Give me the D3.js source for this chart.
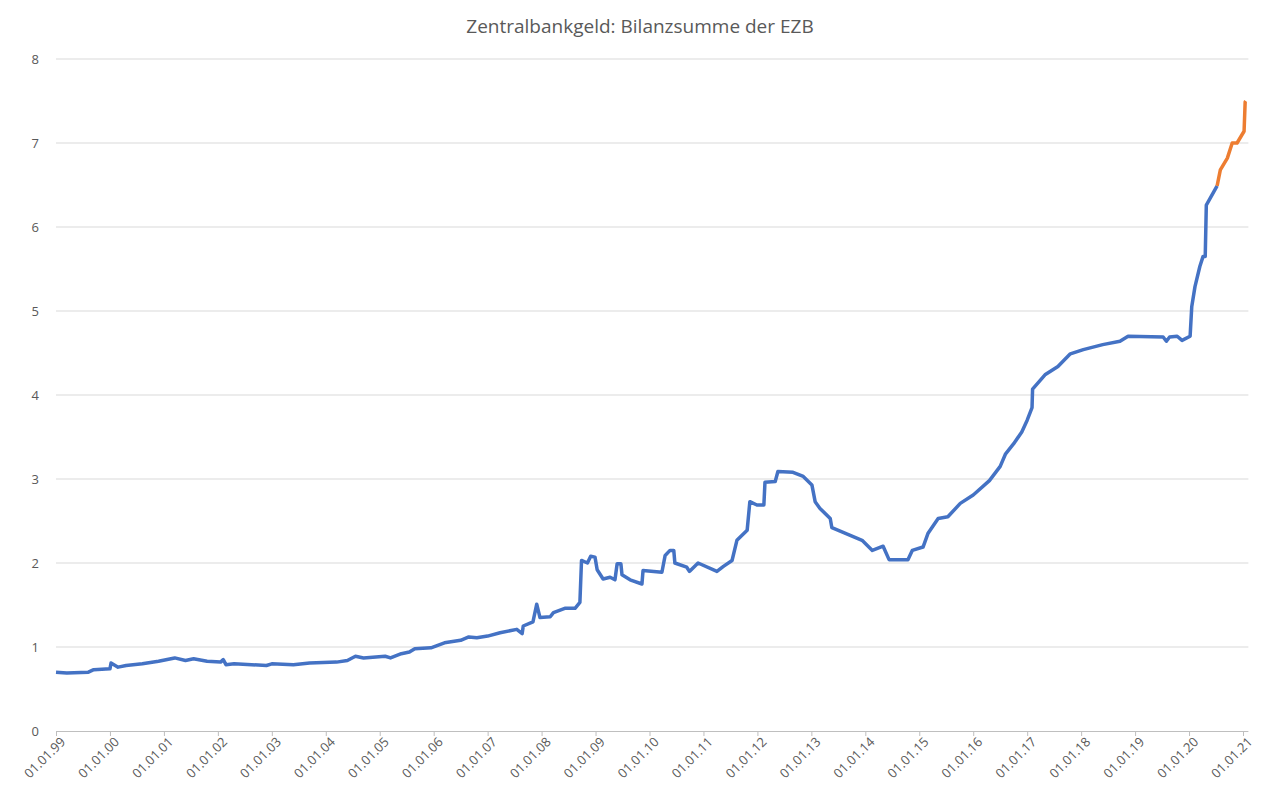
<!DOCTYPE html>
<html lang="de">
<head>
<meta charset="UTF-8">
<title>Zentralbankgeld</title>
<style>
  body { margin: 0; background: #fff; }
  text { font-family: "Open Sans", "Liberation Sans", sans-serif; fill: #595959; }
</style>
</head>
<body>
<script src="https://d3js.org/d3.v7.min.js"></script>
<script>
// blue series: year (decimal), value (Bio. EUR)
var blueYears = [1999.0, 1999.2, 1999.6, 1999.7, 2000.0, 2000.02, 2000.15, 2000.3, 2000.6, 2000.9,
  2001.2, 2001.4, 2001.55, 2001.8, 2002.05, 2002.1, 2002.15, 2002.3, 2002.9, 2003.0,
  2003.4, 2003.7, 2004.2, 2004.4, 2004.55, 2004.7, 2005.1, 2005.2, 2005.4, 2005.55,
  2005.65, 2005.95, 2006.2, 2006.5, 2006.65, 2006.8, 2007.0, 2007.23, 2007.54, 2007.64,
  2007.66, 2007.84, 2007.91, 2007.97, 2008.16, 2008.22, 2008.43, 2008.62, 2008.71, 2008.74,
  2008.85, 2008.91, 2008.99, 2009.03, 2009.14, 2009.27, 2009.36, 2009.4, 2009.47, 2009.49,
  2009.64, 2009.86, 2009.88, 2010.23, 2010.29, 2010.38, 2010.45, 2010.47, 2010.69, 2010.74,
  2010.9, 2011.25, 2011.37, 2011.53, 2011.62, 2011.81, 2011.86, 2011.99, 2012.12, 2012.14,
  2012.33, 2012.38, 2012.66, 2012.85, 2013.01, 2013.07, 2013.16, 2013.35, 2013.38, 2013.94,
  2014.13, 2014.33, 2014.44, 2014.79, 2014.87, 2015.07, 2015.16, 2015.35, 2015.53, 2015.76,
  2016.0, 2016.3, 2016.5, 2016.6, 2016.75, 2016.9, 2017.0, 2017.09, 2017.1, 2017.33,
  2017.57, 2017.8, 2018.04, 2018.4, 2018.72, 2018.87, 2019.52, 2019.58, 2019.64, 2019.78,
  2019.87, 2020.02, 2020.05, 2020.11, 2020.2, 2020.26, 2020.3, 2020.32, 2020.52];
var blueValues = [0.70, 0.69, 0.70, 0.73, 0.74, 0.81, 0.76, 0.78, 0.80, 0.83,
  0.87, 0.84, 0.86, 0.83, 0.82, 0.85, 0.79, 0.80, 0.78, 0.80,
  0.79, 0.81, 0.82, 0.84, 0.89, 0.87, 0.89, 0.87, 0.92, 0.94,
  0.98, 0.99, 1.05, 1.08, 1.12, 1.11, 1.13, 1.17, 1.21, 1.16,
  1.25, 1.30, 1.51, 1.35, 1.36, 1.41, 1.46, 1.46, 1.53, 2.03,
  2.00, 2.08, 2.07, 1.92, 1.81, 1.83, 1.80, 1.99, 1.99, 1.86,
  1.80, 1.75, 1.91, 1.89, 2.09, 2.15, 2.15, 2.00, 1.95, 1.90,
  2.00, 1.90, 1.96, 2.03, 2.27, 2.39, 2.73, 2.69, 2.69, 2.96,
  2.97, 3.09, 3.08, 3.03, 2.93, 2.73, 2.65, 2.53, 2.42, 2.27,
  2.15, 2.20, 2.04, 2.04, 2.15, 2.19, 2.35, 2.53, 2.55, 2.71,
  2.81, 2.98, 3.15, 3.30, 3.42, 3.56, 3.70, 3.85, 4.07, 4.24,
  4.34, 4.49, 4.54, 4.60, 4.64, 4.70, 4.69, 4.64, 4.69, 4.70,
  4.65, 4.70, 5.05, 5.29, 5.53, 5.65, 5.65, 6.26, 6.49];
// orange series (latest values)
var orangeYears = [2020.52, 2020.58, 2020.71, 2020.8, 2020.89, 2021.02, 2021.04, 2021.05];
var orangeValues = [6.49, 6.68, 6.82, 7.00, 7.00, 7.14, 7.49, 7.50];
var tickYears = d3.range(1999, 2022);
var tickLabels = tickYears.map(function(y) { return "01.01." + String(y % 100).padStart(2, "0"); });
var yTicks = [0, 1, 2, 3, 4, 5, 6, 7, 8];

var W = 1280, H = 800;
var margin = {top: 59, right: 37, bottom: 69, left: 56};

var svg = d3.select("body").append("svg")
    .attr("width", W).attr("height", H);

var x = d3.scaleLinear().domain([1999, 2021]).range([margin.left, W - margin.right]);
var y = d3.scaleLinear().domain([0, 8]).range([H - margin.bottom, margin.top]);

svg.append("text")
    .attr("x", 640).attr("y", 33)
    .attr("text-anchor", "middle")
    .style("font-size", "19px")
    .text("Zentralbankgeld: Bilanzsumme der EZB");

// grid lines
svg.append("g").selectAll("line").data(yTicks.slice(1)).enter().append("line")
    .attr("x1", x(1999)).attr("x2", x(2021.1))
    .attr("y1", function(d) { return y(d); }).attr("y2", function(d) { return y(d); })
    .attr("stroke", "#d9d9d9").attr("stroke-width", 1);

var yAxis = svg.append("g")
    .attr("transform", "translate(" + (margin.left - 14) + ",0)")
    .call(d3.axisLeft(y).tickValues(yTicks).tickSize(0).tickFormat(d3.format("d")));
yAxis.select(".domain").remove();
yAxis.selectAll("text").style("font-size", "13px").style("fill", "#595959")
    .style("font-family", "'Open Sans', sans-serif");

var xAxis = svg.append("g")
    .attr("transform", "translate(0," + y(0) + ")")
    .call(d3.axisBottom(x).tickValues(tickYears).tickSize(5)
        .tickFormat(function(d, i) { return tickLabels[i]; }));
xAxis.select(".domain").attr("stroke", "#bfbfbf").attr("d", "M" + x(1999) + ",0.5H" + x(2021.1));
xAxis.selectAll("line").attr("stroke", "#bfbfbf");
xAxis.selectAll("text")
    .style("font-size", "13px").style("fill", "#595959")
    .style("font-family", "'Open Sans', sans-serif")
    .attr("text-anchor", "end")
    .attr("dx", "0").attr("dy", "0")
    .attr("transform", "translate(4,6) rotate(-45)");

var line = d3.line()
    .x(function(d) { return x(d[0]); })
    .y(function(d) { return y(d[1]); });

svg.append("path")
    .datum(d3.zip(blueYears, blueValues))
    .attr("fill", "none").attr("stroke", "#4472C4")
    .attr("stroke-width", 3.5).attr("stroke-linejoin", "round")
    .attr("d", line);

svg.append("path")
    .datum(d3.zip(orangeYears, orangeValues))
    .attr("fill", "none").attr("stroke", "#ED7D31")
    .attr("stroke-width", 3.5).attr("stroke-linejoin", "round")
    .attr("d", line);
</script>
</body>
</html>
